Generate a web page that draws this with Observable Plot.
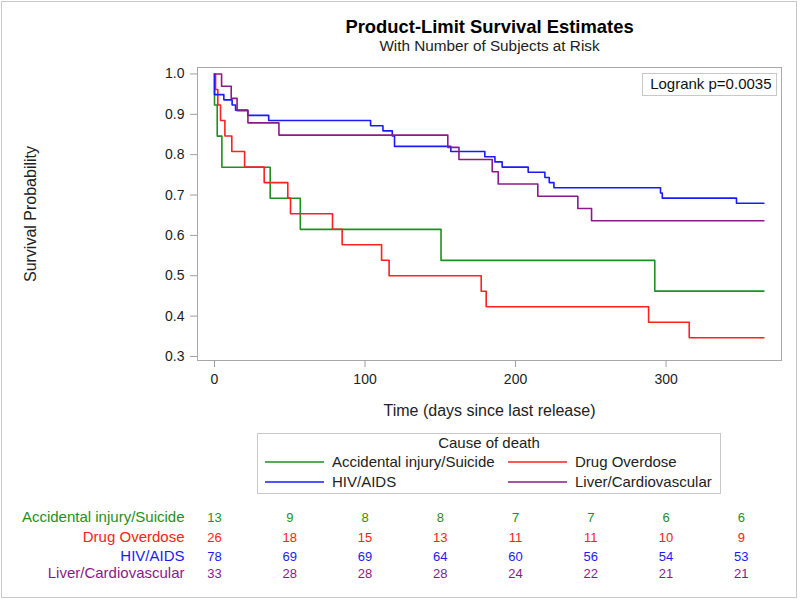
<!DOCTYPE html>
<html><head><meta charset="utf-8">
<script src="https://cdn.jsdelivr.net/npm/d3@7"></script>
<script src="https://cdn.jsdelivr.net/npm/@observablehq/plot@0.6"></script>
<style>body{margin:0;background:#fff} svg{display:block}</style>
</head><body><div id="chart"></div>
<script>
// Groups and colours
const groups = ["Accidental injury/Suicide", "Drug Overdose", "HIV/AIDS", "Liver/Cardiovascular"];
const groupColors = ["#1f8f1f", "#ff2020", "#1a1aff", "#8a1a8a"];

// Kaplan-Meier step points (time in days, survival)
const accTime  = [0, 0, 1.8, 4.9, 37, 57, 150.5, 292.5, 365];
const accSurv  = [1, 0.923, 0.846, 0.769, 0.692, 0.615, 0.538, 0.462, 0.462];

const drugTime = [0, 0.7, 2.2, 4, 6.9, 11.5, 20, 33, 48.7, 50.5, 78.4, 84.8, 111, 116, 177.2, 180.5, 288.4, 315.4, 365];
const drugSurv = [1, 0.9615, 0.9231, 0.8846, 0.8462, 0.8077, 0.7692, 0.7308, 0.6923, 0.6538, 0.6154, 0.5769, 0.5385, 0.5, 0.4615, 0.4231, 0.3846, 0.3462, 0.3462];

const hivTime  = [0, 0, 6.2, 11.7, 14, 22.1, 36, 103.7, 111.9, 118.1, 119.6, 157, 179.6, 186.3, 191.1, 208.4, 219.5, 222.4, 225.5, 296.3, 297.5, 346.8, 365];
const hivSurv  = [1, 0.9487, 0.9359, 0.9231, 0.9103, 0.8974, 0.8846, 0.8718, 0.8590, 0.8462, 0.8205, 0.8077, 0.7949, 0.7821, 0.7692, 0.7564, 0.7436, 0.7308, 0.7179, 0.7051, 0.6923, 0.6795, 0.6795];

const liverTime = [0, 4.7, 11.1, 15, 22.2, 42.8, 155, 162.4, 184.5, 188.5, 214.8, 241.4, 250.5, 365];
const liverSurv = [1, 0.9697, 0.9394, 0.9091, 0.8788, 0.8485, 0.8182, 0.7879, 0.7576, 0.7273, 0.6970, 0.6667, 0.6364, 0.6364];

// Number at risk table
const riskTimes = [0, 50, 100, 150, 200, 250, 300, 350];
const riskAcc   = [13, 9, 8, 8, 7, 7, 6, 6];
const riskDrug  = [26, 18, 15, 13, 11, 11, 10, 9];
const riskHiv   = [78, 69, 69, 64, 60, 56, 54, 53];
const riskLiver = [33, 28, 28, 28, 24, 22, 21, 21];

const xTicks = [0, 100, 200, 300];
const yTicks = [0.3, 0.4, 0.5, 0.6, 0.7, 0.8, 0.9, 1.0];

const title = "Product-Limit Survival Estimates";
const subtitle = "With Number of Subjects at Risk";
const xLabel = "Time (days since last release)";
const yLabel = "Survival Probability";
const legendTitle = "Cause of death";
const statText = "Logrank p=0.0035";

// Build tables
const seriesTimes = [accTime, drugTime, hivTime, liverTime];
const seriesSurv = [accSurv, drugSurv, hivSurv, liverSurv];
const curves = [];
groups.forEach((g, i) => seriesTimes[i].forEach((t, j) => curves.push({group: g, t, s: seriesSurv[i][j]})));

const riskSeries = [riskAcc, riskDrug, riskHiv, riskLiver];

const FONT = "'Liberation Sans', Arial, Helvetica, sans-serif";
const rowDy = [157, 177, 196, 213];

const riskMarks = [];
groups.forEach((g, i) => {
  const rows = riskTimes.map((t, j) => ({group: g, t, n: riskSeries[i][j]}));
  riskMarks.push(Plot.text(rows, {x: "t", frameAnchor: "bottom", lineAnchor: "middle", dy: rowDy[i], text: d => String(d.n), fill: groupColors[i], fontSize: 13}));
  riskMarks.push(Plot.text([g], {frameAnchor: "bottom-left", lineAnchor: "middle", dx: -13, dy: rowDy[i], textAnchor: "end", text: d => d, fill: groupColors[i], fontSize: 15}));
});

const plot = Plot.plot({
  width: 800,
  height: 601,
  marginLeft: 197,
  marginRight: 19,
  marginTop: 67,
  marginBottom: 241,
  style: {fontFamily: FONT, fontSize: "14px", background: "#fff", color: "#000"},
  x: {domain: [-11.3, 376.7]},
  y: {domain: [0.29, 1.016]},
  color: {domain: groups, range: groupColors},
  marks: [
    Plot.frame({stroke: "#a8a8a8"}),
    Plot.axisX({ticks: xTicks, tickSize: 7, tickPadding: 7, stroke: "#a0a0a0", fill: "#222", fontSize: 14, label: null}),
    Plot.axisY({ticks: yTicks, tickSize: 7, tickPadding: 6, stroke: "#a0a0a0", fill: "#222", fontSize: 14, tickFormat: d3.format(".1f"), label: null}),
    Plot.line(curves, {x: "t", y: "s", z: "group", stroke: "group", curve: "step-after", strokeWidth: 1.6}),
    Plot.text([title], {frameAnchor: "top", lineAnchor: "middle", dy: -40, text: d => d, fontWeight: "bold", fontSize: 18.4, fill: "#000"}),
    Plot.text([subtitle], {frameAnchor: "top", lineAnchor: "middle", dy: -21, text: d => d, fontSize: 15.3, fill: "#222"}),
    Plot.text([xLabel], {frameAnchor: "bottom", lineAnchor: "middle", dy: 50, text: d => d, fontSize: 16, fill: "#222"}),
    Plot.text([yLabel], {frameAnchor: "left", lineAnchor: "middle", textAnchor: "middle", dx: -167, rotate: -90, text: d => d, fontSize: 16, fill: "#222"}),
    Plot.text([statText], {frameAnchor: "top-right", lineAnchor: "middle", dx: -10, dy: 17, textAnchor: "end", text: d => d, fontSize: 15, fill: "#111"}),
    ...riskMarks
  ]
});

const svg = d3.select(plot);
// outer border
svg.append("rect").attr("x", 1.5).attr("y", 1.5).attr("width", 795).attr("height", 596)
  .attr("fill", "none").attr("stroke", "#c8c8c8");
// statistic box
svg.append("rect").attr("x", 642.5).attr("y", 73.5).attr("width", 134).attr("height", 22)
  .attr("fill", "none").attr("stroke", "#c8c8c8");

// legend
const lg = svg.append("g").attr("font-family", FONT).attr("font-size", 15).attr("fill", "#222").attr("text-anchor", "start");
lg.append("rect").attr("x", 257.5).attr("y", 433.5).attr("width", 463).attr("height", 60)
  .attr("fill", "none").attr("stroke", "#c8c8c8");
lg.append("text").attr("x", 489).attr("y", 443).attr("dy", "0.35em").attr("text-anchor", "middle").text(legendTitle);
const legendPos = [[265, 462], [508, 462], [265, 482], [508, 482]];
groups.forEach((g, i) => {
  const [lx, ly] = legendPos[i];
  lg.append("line").attr("x1", lx).attr("x2", lx + 59).attr("y1", ly).attr("y2", ly)
    .attr("stroke", groupColors[i]).attr("stroke-width", 1.6);
  lg.append("text").attr("x", lx + 67).attr("y", ly).attr("dy", "0.35em").attr("text-anchor", "start").text(g);
});

document.getElementById("chart").appendChild(plot);
</script></body></html>
